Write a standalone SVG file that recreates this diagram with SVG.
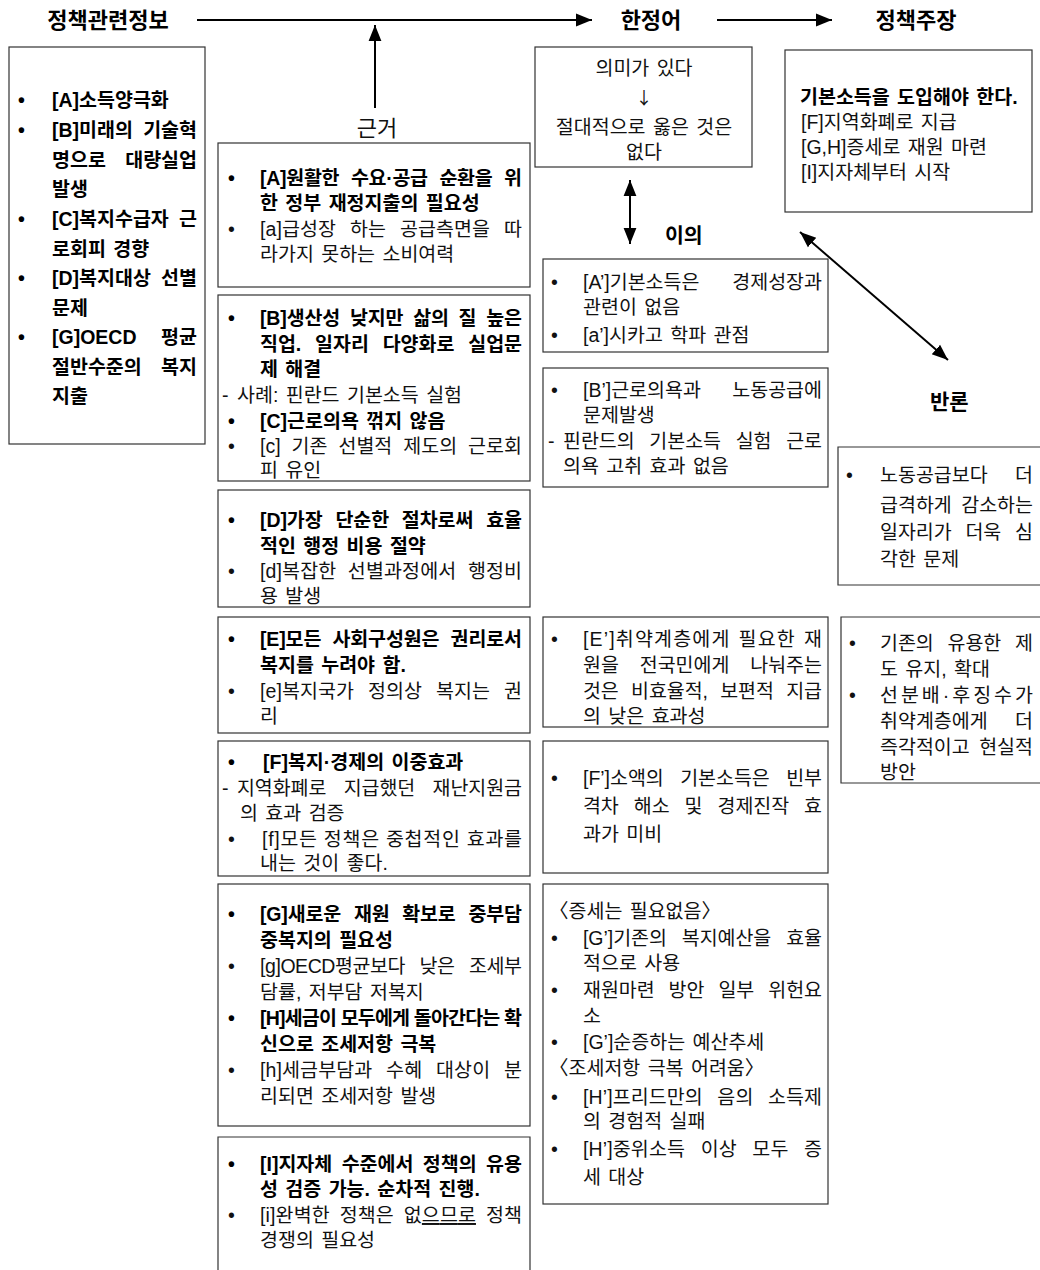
<svg xmlns="http://www.w3.org/2000/svg" width="1040" height="1270" viewBox="0 0 1040 1270">
<defs>
<marker id="ah" viewBox="0 0 10 10" refX="10" refY="5" markerWidth="8" markerHeight="8" markerUnits="strokeWidth" orient="auto-start-reverse">
<path d="M0,1 L10,5 L0,9 z" fill="#000"/>
</marker>
</defs>
<style>
text{font-family:"Liberation Sans","Noto Sans CJK KR",sans-serif;font-size:19.5px;fill:#111;word-spacing:2px}
.b{font-weight:bold;fill:#000}
.h{font-weight:bold;font-size:22px;fill:#000;word-spacing:0}
.c{text-anchor:middle}
.e{text-anchor:end}
.box{fill:#fff;stroke:#333;stroke-width:1.2}
.open{fill:none;stroke:#333;stroke-width:1.2}
.arr{stroke:#000;stroke-width:2;fill:none}
</style>
<rect width="1040" height="1270" fill="#fff"/>

<g id="connectors">
<line class="arr" x1="197" y1="20" x2="592" y2="20" marker-end="url(#ah)"/>
<line class="arr" x1="717" y1="20" x2="832" y2="20" marker-end="url(#ah)"/>
<line class="arr" x1="375" y1="108" x2="375" y2="25" marker-end="url(#ah)"/>
<line class="arr" x1="630" y1="180" x2="630" y2="244" marker-start="url(#ah)" marker-end="url(#ah)"/>
<line class="arr" x1="800" y1="232" x2="948" y2="360" marker-start="url(#ah)" marker-end="url(#ah)"/>
</g>

<g id="headers">
<text class="h c" x="108" y="28">정책관련정보</text>
<text class="h c" x="651" y="28">한정어</text>
<text class="h c" x="916" y="28">정책주장</text>
<text class="c" x="377" y="136" style="font-size:22px">근거</text>
<text class="h" x="665" y="243" style="font-size:20.5px">이의</text>
<text class="h" x="930" y="409" style="font-size:21px">반론</text>
</g>

<g id="info">
<rect class="box" x="9" y="47" width="196" height="397"/>
<text class="b" x="18" y="107">•</text><text class="b" x="52" y="107">[A]소득양극화</text>
<text class="b" x="18" y="137">•</text><text class="b" x="52" y="137">[B]미래의</text><text class="b e" x="197" y="137">기술혁</text>
<text class="b" x="52" y="167">명으로</text><text class="b e" x="197" y="167">대량실업</text>
<text class="b" x="52" y="196">발생</text>
<text class="b" x="18" y="226">•</text><text class="b" x="52" y="226">[C]복지수급자</text><text class="b e" x="197" y="226">근</text>
<text class="b" x="52" y="256">로회피 경향</text>
<text class="b" x="18" y="285">•</text><text class="b" x="52" y="285">[D]복지대상</text><text class="b e" x="197" y="285">선별</text>
<text class="b" x="52" y="315">문제</text>
<text class="b" x="18" y="344">•</text><text class="b" x="52" y="344">[G]OECD</text><text class="b e" x="197" y="344">평균</text>
<text class="b" x="52" y="374">절반수준의</text><text class="b e" x="197" y="374">복지</text>
<text class="b" x="52" y="403">지출</text>
</g>

<g id="basis-a">
<rect class="box" x="218" y="143" width="312" height="144"/>
<text class="b" x="228" y="185">•</text><text class="b" x="260" y="185" style="word-spacing:6.5px" textLength="262" lengthAdjust="spacing">[A]원활한 수요·공급 순환을 위</text>
<text class="b" x="260" y="210">한 정부 재정지출의 필요성</text>
<text x="228" y="236">•</text><text x="260" y="236" style="word-spacing:8.5px" textLength="262" lengthAdjust="spacing">[a]급성장 하는 공급측면을 따</text>
<text x="260" y="261">라가지 못하는 소비여력</text>
</g>

<g id="basis-bc">
<rect class="box" x="218" y="295" width="312" height="186"/>
<text class="b" x="228" y="325">•</text><text class="b" x="260" y="325" style="word-spacing:4.5px" textLength="262" lengthAdjust="spacing">[B]생산성 낮지만 삶의 질 높은</text>
<text class="b" x="260" y="351" style="word-spacing:8.5px" textLength="262" lengthAdjust="spacing">직업. 일자리 다양화로 실업문</text>
<text class="b" x="260" y="376">제 해결</text>
<text x="222" y="402">-</text><text x="237" y="402">사례: 핀란드 기본소득 실험</text>
<text class="b" x="228" y="428">•</text><text class="b" x="260" y="428">[C]근로의욕 꺾지 않음</text>
<text x="228" y="453">•</text><text x="260" y="453" style="word-spacing:5.5px" textLength="262" lengthAdjust="spacing">[c] 기존 선별적 제도의 근로회</text>
<text x="260" y="477">피 유인</text>
</g>

<g id="basis-d">
<rect class="box" x="218" y="490" width="312" height="117"/>
<text class="b" x="228" y="527">•</text><text class="b" x="260" y="527" style="word-spacing:7.5px" textLength="262" lengthAdjust="spacing">[D]가장 단순한 절차로써 효율</text>
<text class="b" x="260" y="553">적인 행정 비용 절약</text>
<text x="228" y="578">•</text><text x="260" y="578" style="word-spacing:6px" textLength="262" lengthAdjust="spacing">[d]복잡한 선별과정에서 행정비</text>
<text x="260" y="603">용 발생</text>
</g>

<g id="basis-e">
<rect class="box" x="218" y="617" width="312" height="116"/>
<text class="b" x="228" y="646">•</text><text class="b" x="260" y="646" style="word-spacing:6px" textLength="262" lengthAdjust="spacing">[E]모든 사회구성원은 권리로서</text>
<text class="b" x="260" y="672">복지를 누려야 함.</text>
<text x="228" y="698">•</text><text x="260" y="698" style="word-spacing:8.5px" textLength="262" lengthAdjust="spacing">[e]복지국가 정의상 복지는 권</text>
<text x="260" y="723">리</text>
</g>

<g id="basis-f">
<rect class="box" x="218" y="741" width="312" height="135"/>
<text class="b" x="228" y="769">•</text><text class="b" x="263" y="769">[F]복지·경제의 이중효과</text>
<text x="222" y="795">-</text><text x="237" y="795" style="word-spacing:12px" textLength="285" lengthAdjust="spacing">지역화폐로 지급했던 재난지원금</text>
<text x="240" y="820">의 효과 검증</text>
<text x="228" y="846">•</text><text x="262" y="846" style="word-spacing:0" textLength="260" lengthAdjust="spacing">[f]모든 정책은 중첩적인 효과를</text>
<text x="260" y="870">내는 것이 좋다.</text>
</g>

<g id="basis-gh">
<rect class="box" x="218" y="884" width="312" height="242"/>
<text class="b" x="228" y="921">•</text><text class="b" x="260" y="921" style="word-spacing:7.5px" textLength="262" lengthAdjust="spacing">[G]새로운 재원 확보로 중부담</text>
<text class="b" x="260" y="947">중복지의 필요성</text>
<text x="228" y="973">•</text><text x="260" y="973" style="word-spacing:9.5px" textLength="262" lengthAdjust="spacing">[g]OECD평균보다 낮은 조세부</text>
<text x="260" y="999">담률, 저부담 저복지</text>
<text class="b" x="228" y="1025">•</text><text class="b" x="260" y="1025" style="word-spacing:0" textLength="262" lengthAdjust="spacing">[H]세금이 모두에게 돌아간다는 확</text>
<text class="b" x="260" y="1051">신으로 조세저항 극복</text>
<text x="228" y="1077">•</text><text x="260" y="1077" style="word-spacing:8.3px" textLength="262" lengthAdjust="spacing">[h]세금부담과 수혜 대상이 분</text>
<text x="260" y="1103">리되면 조세저항 발생</text>
</g>

<g id="basis-i">
<path class="open" d="M218,1270 V1137 H530 V1270"/>
<text class="b" x="228" y="1171">•</text><text class="b" x="260" y="1171" style="word-spacing:4px" textLength="262" lengthAdjust="spacing">[I]지자체 수준에서 정책의 유용</text>
<text class="b" x="260" y="1196">성 검증 가능. 순차적 진행.</text>
<text x="228" y="1222">•</text><text x="260" y="1222" style="word-spacing:4.3px" textLength="262" lengthAdjust="spacing">[i]완벽한 정책은 없<tspan text-decoration="underline">으므로</tspan> 정책</text>
<text x="260" y="1247">경쟁의 필요성</text>
</g>

<g id="qualifier">
<rect class="box" x="535" y="47" width="217" height="120"/>
<text class="c" x="644" y="75">의미가 있다</text>
<text class="c" x="644" y="104" style="font-family:'Noto Sans CJK KR',sans-serif;font-size:17px">↓</text>
<text class="c" x="644" y="134">절대적으로 옳은 것은</text>
<text class="c" x="644" y="159">없다</text>
</g>

<g id="claim">
<rect class="box" x="785" y="50" width="247" height="162"/>
<text class="b" x="800" y="104">기본소득을 도입해야 한다.</text>
<text x="801" y="129">[F]지역화폐로 지급</text>
<text x="801" y="154">[G,H]증세로 재원 마련</text>
<text x="801" y="179">[I]지자체부터 시작</text>
</g>

<g id="objection-a">
<rect class="box" x="543" y="259" width="285" height="93"/>
<text x="551" y="289">•</text><text x="583" y="289">[A’]기본소득은</text><text class="e" x="822" y="289">경제성장과</text>
<text x="583" y="314">관련이 없음</text>
<text x="551" y="342">•</text><text x="583" y="342">[a’]시카고 학파 관점</text>
</g>

<g id="objection-b">
<rect class="box" x="543" y="368" width="285" height="119"/>
<text x="551" y="397">•</text><text x="583" y="397">[B’]근로의욕과</text><text class="e" x="822" y="397">노동공급에</text>
<text x="583" y="422">문제발생</text>
<text x="548" y="448">-</text><text x="563" y="448" style="word-spacing:9.3px" textLength="259" lengthAdjust="spacing">핀란드의 기본소득 실험 근로</text>
<text x="563" y="473">의욕 고취 효과 없음</text>
</g>

<g id="objection-e">
<rect class="box" x="543" y="617" width="285" height="110"/>
<text x="551" y="646">•</text><text x="583" y="646" style="word-spacing:1.5px" textLength="239" lengthAdjust="spacing">[E’]취약계층에게 필요한 재</text>
<text x="583" y="672" style="word-spacing:15.5px" textLength="239" lengthAdjust="spacing">원을 전국민에게 나눠주는</text>
<text x="583" y="698" style="word-spacing:7px" textLength="239" lengthAdjust="spacing">것은 비효율적, 보편적 지급</text>
<text x="583" y="723">의 낮은 효과성</text>
</g>

<g id="objection-f">
<rect class="box" x="543" y="741" width="285" height="132"/>
<text x="551" y="785">•</text><text x="583" y="785" style="word-spacing:11px" textLength="239" lengthAdjust="spacing">[F’]소액의 기본소득은 빈부</text>
<text x="583" y="813" style="word-spacing:9.7px" textLength="239" lengthAdjust="spacing">격차 해소 및 경제진작 효</text>
<text x="583" y="841">과가 미비</text>
</g>

<g id="objection-gh">
<rect class="box" x="543" y="884" width="285" height="320"/>
<text x="549" y="918">〈증세는 필요없음〉</text>
<text x="551" y="945">•</text><text x="583" y="945" style="word-spacing:9.5px" textLength="239" lengthAdjust="spacing">[G’]기존의 복지예산을 효율</text>
<text x="583" y="970">적으로 사용</text>
<text x="551" y="997">•</text><text x="583" y="997" style="word-spacing:8.7px" textLength="239" lengthAdjust="spacing">재원마련 방안 일부 위헌요</text>
<text x="583" y="1023">소</text>
<text x="551" y="1049">•</text><text x="583" y="1049">[G’]순증하는 예산추세</text>
<text x="549" y="1075">〈조세저항 극복 어려움〉</text>
<text x="551" y="1104">•</text><text x="583" y="1104" style="word-spacing:9px" textLength="239" lengthAdjust="spacing">[H’]프리드만의 음의 소득제</text>
<text x="583" y="1128">의 경험적 실패</text>
<text x="551" y="1156">•</text><text x="583" y="1156" style="word-spacing:10px" textLength="239" lengthAdjust="spacing">[H’]중위소득 이상 모두 증</text>
<text x="583" y="1184">세 대상</text>
</g>

<g id="rebuttal-1">
<path class="open" d="M1040,447 H838 V585 H1040"/>
<text x="846" y="482">•</text><text x="880" y="482">노동공급보다</text><text class="e" x="1033" y="482">더</text>
<text x="880" y="512" style="word-spacing:4px" textLength="153" lengthAdjust="spacing">급격하게 감소하는</text>
<text x="880" y="539" style="word-spacing:8.5px" textLength="153" lengthAdjust="spacing">일자리가 더욱 심</text>
<text x="880" y="566">각한 문제</text>
</g>

<g id="rebuttal-2">
<path class="open" d="M1040,617 H841 V783 H1040"/>
<text x="849" y="650">•</text><text x="880" y="650" style="word-spacing:8.5px" textLength="153" lengthAdjust="spacing">기존의 유용한 제</text>
<text x="880" y="676">도 유지, 확대</text>
<text x="849" y="702">•</text><text x="880" y="702" textLength="153" lengthAdjust="spacing">선분배·후징수가</text>
<text x="880" y="728">취약계층에게</text><text class="e" x="1033" y="728">더</text>
<text x="880" y="754" style="word-spacing:4px" textLength="153" lengthAdjust="spacing">즉각적이고 현실적</text>
<text x="880" y="779">방안</text>
</g>
</svg>
